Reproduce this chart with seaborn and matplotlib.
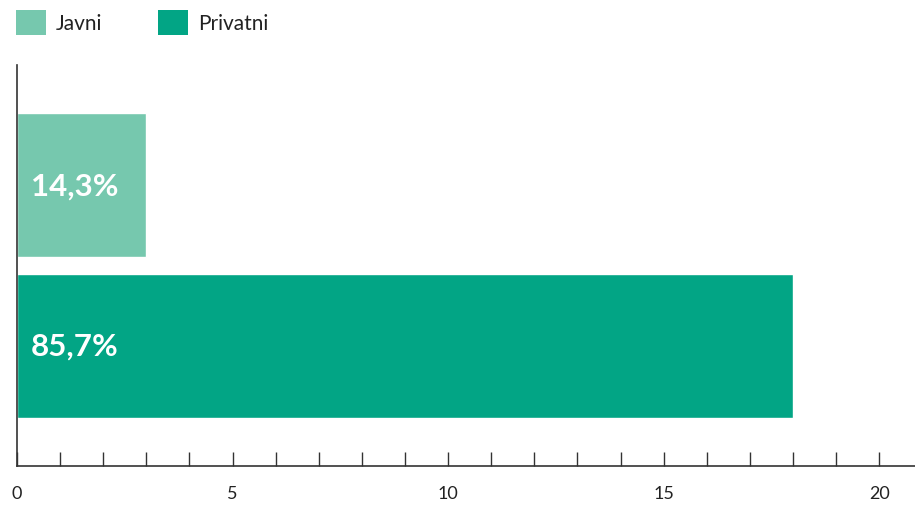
import pandas as pd
import seaborn as sns
import matplotlib.pyplot as plt
from matplotlib.patches import Patch
from matplotlib.ticker import MultipleLocator

# data
categories = ["Javni", "Privatni"]
values = [3, 18]
labels = ["14,3%", "85,7%"]
colors = ["#76c8ae", "#02a585"]

df = pd.DataFrame({"tip": categories, "broj": values})

sns.set_style("white")
plt.rcParams["font.family"] = ["Lato", "DejaVu Sans"]

fig = plt.figure(figsize=(9.15, 5.06), dpi=100)
ax = fig.add_axes([17 / 915, 1 - 467 / 506, 1 - 17 / 915, (467 - 66) / 506])

sns.barplot(data=df, y="tip", x="broj", hue="tip", palette=colors,
            orient="h", width=0.9, dodge=False, legend=False, ax=ax,
            saturation=1)

for i, (v, lab) in enumerate(zip(values, labels)):
    ax.text(0.33, i, lab, color="white", fontsize=22.5, fontweight="bold",
            va="center", ha="left")

ax.set_xlim(0, 20.83)
ax.set_ylim(1.75, -0.75)
ax.set_ylabel("")
ax.set_xlabel("")
ax.set_yticks([])
ax.xaxis.set_major_locator(MultipleLocator(5))
ax.xaxis.set_minor_locator(MultipleLocator(1))
ax.tick_params(axis="x", which="both", direction="in", length=10, width=1,
               color="#333333", bottom=True, pad=14, labelsize=13,
               labelcolor="#222222")
for s in ["top", "right"]:
    ax.spines[s].set_visible(False)
for s in ["left", "bottom"]:
    ax.spines[s].set_color("#333333")
    ax.spines[s].set_linewidth(1.2)

handles = [Patch(facecolor=c, edgecolor="none") for c in colors]
fig.legend(handles, categories, loc="upper left",
           bbox_to_anchor=(16 / 915, 1 - 11 / 506),
           ncol=2, frameon=False, fontsize=15, handlelength=1.45,
           handleheight=1.45, handletextpad=0.45, columnspacing=2.7,
           borderaxespad=0, borderpad=0, labelcolor="#222222")

fig.savefig("out.png", dpi=100)
